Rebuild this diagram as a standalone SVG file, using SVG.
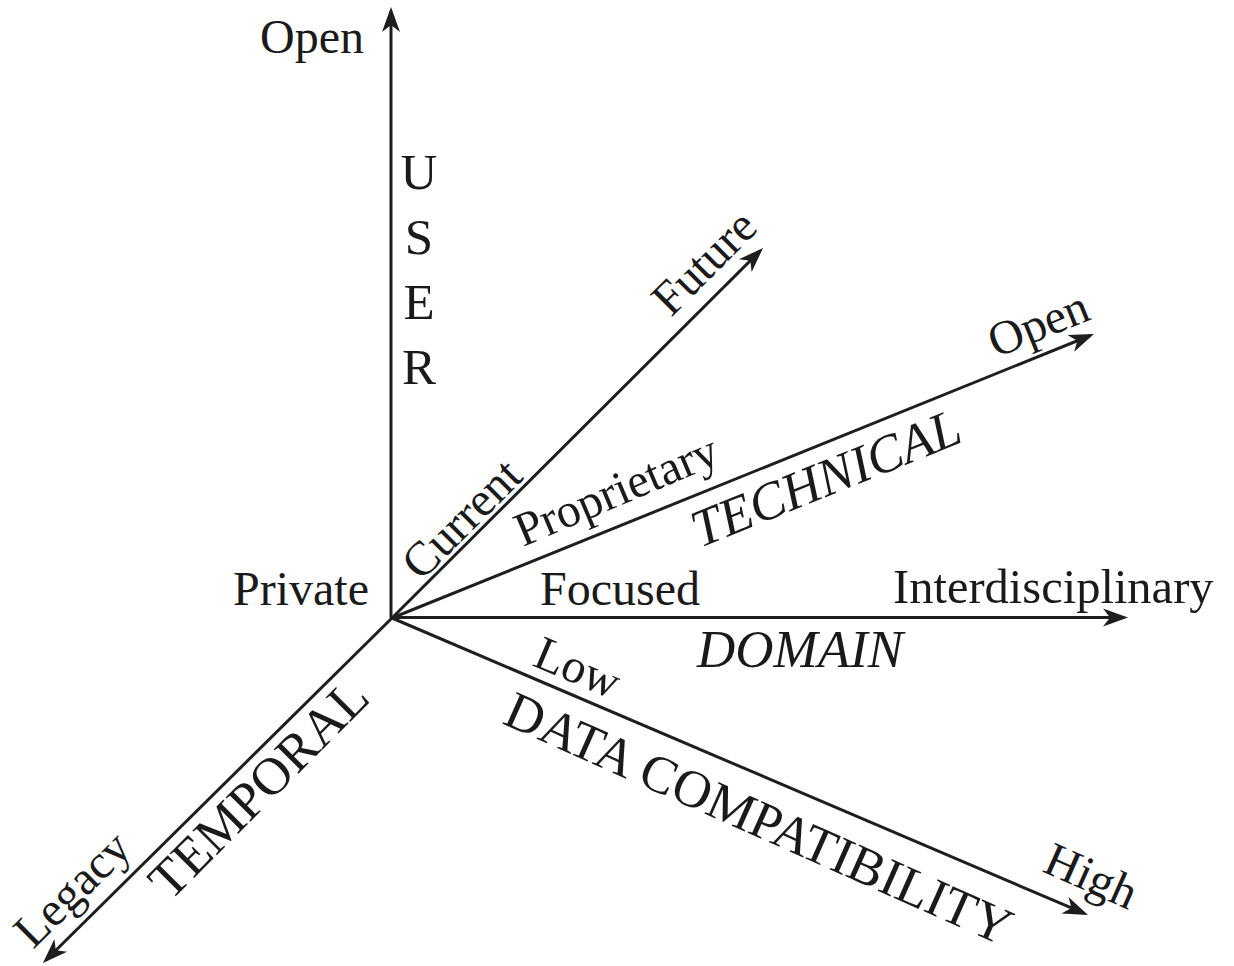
<svg xmlns="http://www.w3.org/2000/svg" width="1234" height="966" viewBox="0 0 1234 966">
<defs>
<style>
.ax{stroke:#1e1e1e;stroke-width:3;fill:none;marker-end:url(#ah)}
text{font-family:"Liberation Serif","Times New Roman",serif;fill:#1a1a1a;font-size:48px}
.it{font-style:italic;font-size:53px}
.big{font-size:51px}
.huge{font-size:53px}
</style>
<marker id="ah" markerUnits="userSpaceOnUse" viewBox="-26 -12 32 24" markerWidth="32" markerHeight="24" refX="0" refY="0" orient="auto">
<path d="M4,0 L-21,-9 L-14,0 L-21,9 Z" fill="#1e1e1e"/>
</marker>
</defs>
<rect width="1234" height="966" fill="#ffffff"/>
<g id="connectors">
<line class="ax" x1="391" y1="618" x2="391" y2="11"/>
<line class="ax" x1="392" y1="618" x2="760.2" y2="250.8"/>
<line class="ax" x1="392" y1="618" x2="1090.3" y2="335.5"/>
<line class="ax" x1="392" y1="617.5" x2="1124" y2="617.5"/>
<line class="ax" x1="392" y1="618" x2="1084.3" y2="913.4"/>
<line class="ax" x1="392" y1="618" x2="45.8" y2="960.2"/>
</g>
<g id="user-axis">
<text x="260" y="53">Open</text>
<text x="233" y="605">Private</text>
<text class="big" text-anchor="middle" x="419" y="189">U</text>
<text class="big" text-anchor="middle" x="419" y="254">S</text>
<text class="big" text-anchor="middle" x="419" y="319">E</text>
<text class="big" text-anchor="middle" x="419" y="384">R</text>
</g>
<g id="temporal-future">
<text transform="translate(421,582) rotate(-45)">Current</text>
<text transform="translate(671,318) rotate(-45)">Future</text>
</g>
<g id="technical-axis">
<text transform="translate(523,547) rotate(-23)">Proprietary</text>
<text class="it" transform="translate(700,548) rotate(-22)">TECHNICAL</text>
<text transform="translate(996,358) rotate(-22)">Open</text>
</g>
<g id="domain-axis">
<text x="540" y="605">Focused</text>
<text x="893" y="603" style="font-size:48.5px">Interdisciplinary</text>
<text class="it" x="697" y="667">DOMAIN</text>
</g>
<g id="data-axis">
<text transform="translate(531,665) rotate(23)">Low</text>
<text class="huge" transform="translate(501,723) rotate(24)">DATA COMPATIBILITY</text>
<text transform="translate(1041,871) rotate(24)">High</text>
</g>
<g id="temporal-axis">
<text transform="translate(33,950) rotate(-44.6)">Legacy</text>
<text class="huge" transform="translate(170,902) rotate(-45)">TEMPORAL</text>
</g>
</svg>
